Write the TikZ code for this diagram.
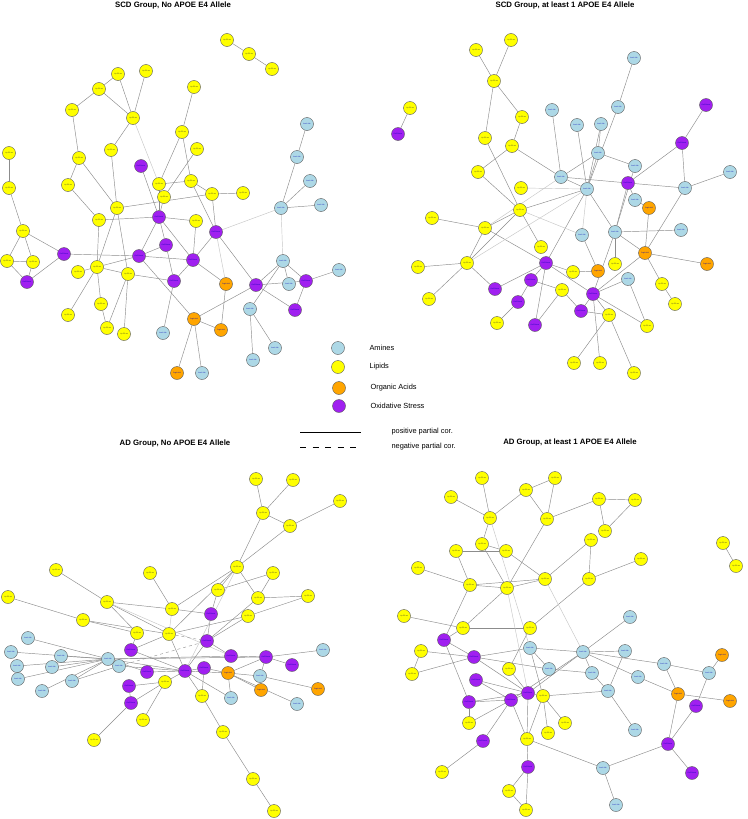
\documentclass[tikz,border=0pt]{standalone}
\usepackage{fontspec}
\setmainfont{Liberation Sans}
\usetikzlibrary{backgrounds}

\definecolor{amicol}{RGB}{173,216,230}
\definecolor{lipcol}{RGB}{255,255,0}
\definecolor{orgcol}{RGB}{255,165,0}
\definecolor{oxscol}{RGB}{160,32,240}

\newcommand\lblip{Lip.PC.aa}
\newcommand\lbami{Ami.L.AA}
\newcommand\lborga{OrgA.Acid}
\newcommand\lboxs{OxS.Stress}

\tikzset{
  met/.style={circle, draw=black!65, line width=0.4pt, minimum size=13pt, inner sep=0pt,
    font=\fontsize{1.7}{2}\selectfont, text=blue!70!black},
  lip/.style={met, fill=lipcol, text=black!80},
  ami/.style={met, fill=amicol},
  orga/.style={met, fill=orgcol},
  oxs/.style={met, fill=oxscol},
  pcor/.style={draw=black!45, line width=0.45pt},
  pcorl/.style={draw=black!22, line width=0.45pt},
  ncor/.style={draw=black!40, line width=0.45pt, dashed},
  ttl/.style={font=\fontsize{7.8}{9}\selectfont\bfseries},
  lgd/.style={font=\fontsize{7.4}{9}\selectfont, anchor=west}
}

\begin{document}
\begin{tikzpicture}[x=1pt, y=-1pt]
    \useasboundingbox (0,0) rectangle (747,819);

    % titres
    \node[ttl] (t1) at (173,5) {SCD Group, No APOE E4 Allele};
    \node[ttl] (t2) at (565,5) {SCD Group, at least 1 APOE E4 Allele};
    \node[ttl] (t3) at (175,443) {AD Group, No APOE E4 Allele};
    \node[ttl] (t4) at (570,442) {AD Group, at least 1 APOE E4 Allele};

    % SCD, pas de E4
    \foreach \n/\x/\y/\t in {a1/227/40/lip, a2/249/54/lip, a3/272/69/lip, a4/118/74/lip, a5/146/71/lip,
        a6/99/89/lip, a7/194/87/lip, a8/72/110/lip, a9/133/118/lip, a10/307/124/ami, a11/182/132/lip,
        a12/297/157/ami, a13/111/150/lip, a14/197/149/lip, a15/9/153/lip, a16/79/158/lip, a17/141/166/oxs,
        a18/310/181/ami, a19/68/185/lip, a20/9/188/lip, a21/159/184/lip, a22/191/181/lip, a23/212/194/lip,
        a24/243/193/lip, a25/164/197/lip, a26/321/205/ami, a27/117/208/lip, a28/281/208/ami, a29/99/220/lip,
        a30/159/217/oxs, a31/196/221/lip, a32/216/232/oxs, a33/23/231/lip, a34/166/245/oxs, a35/64/254/oxs,
        a36/7/261/lip, a37/33/262/lip, a38/139/256/oxs, a39/193/260/oxs, a40/283/261/ami, a41/78/272/lip,
        a42/97/267/lip, a43/128/274/lip, a44/339/270/ami, a45/27/282/oxs, a46/174/281/oxs, a47/226/284/orga,
        a48/256/285/oxs, a49/289/284/ami, a50/306/281/oxs, a51/101/304/lip, a52/250/309/ami, a53/295/310/oxs,
        a54/68/315/lip, a55/194/319/orga, a56/107/328/lip, a57/124/334/lip, a58/163/333/ami, a59/221/330/orga,
        a60/275/348/ami, a61/253/360/ami, a62/177/373/orga, a63/202/373/ami}
        \node[\t] (\n) at (\x,\y) {\csname lb\t\endcsname};

    % SCD, au moins 1 E4
    \foreach \n/\x/\y/\t in {b1/511/40/lip, b2/476/50/lip, b3/634/58/ami, b4/494/81/lip, b5/410/108/lip,
        b6/552/110/ami, b7/618/107/ami, b8/706/105/oxs, b9/522/117/lip, b10/577/125/ami, b11/601/124/ami,
        b12/398/134/oxs, b13/485/138/lip, b14/512/146/lip, b15/682/143/oxs, b16/598/153/ami, b17/635/166/ami,
        b18/478/172/lip, b19/561/177/ami, b20/628/183/oxs, b21/685/188/ami, b22/730/172/ami, b23/521/188/lip,
        b24/587/189/ami, b25/635/200/ami, b26/649/208/orga, b27/520/210/lip, b28/432/218/lip, b29/485/228/lip,
        b30/582/235/ami, b31/615/232/ami, b32/681/230/ami, b33/541/247/lip, b34/645/253/orga, b35/467/263/lip,
        b36/418/267/lip, b37/546/263/oxs, b38/615/264/lip, b39/707/264/orga, b40/573/272/lip, b41/598/271/orga,
        b42/628/279/ami, b43/531/280/oxs, b44/495/289/oxs, b45/562/290/lip, b46/593/294/oxs, b47/662/284/lip,
        b48/429/299/lip, b49/518/302/oxs, b50/675/304/lip, b51/581/311/oxs, b52/609/315/lip, b53/497/323/lip,
        b54/535/325/oxs, b55/647/326/lip, b56/574/363/lip, b57/600/363/lip, b58/634/373/lip}
        \node[\t] (\n) at (\x,\y) {\csname lb\t\endcsname};

    % AD, pas de E4
    \foreach \n/\x/\y/\t in {c1/256/479/lip, c2/293/480/lip, c3/340/501/lip, c4/263/513/lip, c5/290/526/lip,
        c6/56/570/lip, c7/150/573/lip, c8/237/567/lip, c9/273/573/lip, c10/218/590/lip, c11/8/597/lip,
        c12/107/602/lip, c13/258/598/lip, c14/308/596/lip, c15/172/609/lip, c16/211/614/oxs, c17/248/616/lip,
        c18/83/620/lip, c19/28/638/ami, c20/137/633/lip, c21/169/634/lip, c22/207/641/oxs, c23/11/652/ami,
        c24/131/650/oxs, c25/61/656/ami, c26/108/659/ami, c27/231/656/oxs, c28/266/657/oxs, c29/323/650/ami,
        c30/17/666/ami, c31/52/667/ami, c32/119/666/ami, c33/147/672/oxs, c34/185/671/oxs, c35/204/668/oxs,
        c36/228/673/orga, c37/292/665/oxs, c38/260/676/ami, c39/18/679/ami, c40/72/681/ami, c41/165/682/lip,
        c42/129/686/oxs, c43/261/690/orga, c44/318/689/orga, c45/42/691/ami, c46/202/696/lip, c47/231/698/ami,
        c48/297/704/ami, c49/131/703/oxs, c50/143/720/lip, c51/94/740/lip, c52/223/732/lip, c53/253/779/lip,
        c54/274/811/lip}
        \node[\t] (\n) at (\x,\y) {\csname lb\t\endcsname};

    % AD, au moins 1 E4
    \foreach \n/\x/\y/\t in {d1/482/478/lip, d2/555/478/lip, d3/526/490/lip, d4/451/497/lip, d5/599/499/lip,
        d6/635/500/lip, d7/490/518/lip, d8/547/519/lip, d9/605/531/lip, d10/591/540/lip, d11/723/543/lip,
        d12/482/544/lip, d13/456/551/lip, d14/506/551/lip, d15/641/559/lip, d16/736/566/lip, d17/418/568/lip,
        d18/589/579/lip, d19/545/579/lip, d20/470/585/lip, d21/507/588/lip, d22/404/616/lip, d23/630/617/ami,
        d24/463/628/lip, d25/530/628/lip, d26/444/640/oxs, d27/421/651/lip, d28/530/648/ami, d29/474/657/oxs,
        d30/583/652/ami, d31/625/651/ami, d32/722/655/orga, d33/664/664/ami, d34/412/674/lip, d35/549/669/ami,
        d36/509/669/lip, d37/592/673/ami, d38/638/677/ami, d39/709/673/ami, d40/476/680/oxs, d41/528/693/oxs,
        d42/543/696/lip, d43/608/691/ami, d44/678/694/orga, d45/511/700/oxs, d46/469/702/oxs, d47/730/701/orga,
        d48/696/706/oxs, d49/565/723/lip, d50/469/723/lip, d51/548/733/lip, d52/483/741/oxs, d53/527/739/lip,
        d54/635/730/ami, d55/668/744/oxs, d56/442/772/lip, d57/528/767/oxs, d58/603/768/ami, d59/692/773/oxs,
        d60/509/791/lip, d61/616/805/ami, d62/526/810/lip}
        \node[\t] (\n) at (\x,\y) {\csname lb\t\endcsname};

    \begin{scope}[on background layer]
    \fill[white] (0,0) rectangle (747,819);
    % corrélations partielles
    \foreach \u/\v in {a1/a2, a2/a3, a4/a6, a4/a9, a5/a9, a6/a8, a6/a9, a8/a16, a9/a13, a7/a11, a11/a21,
        a11/a22, a14/a25, a16/a19, a16/a27, a13/a27, a17/a30, a21/a22, a23/a24, a22/a23, a10/a12, a12/a28,
        a18/a28, a26/a28, a15/a20, a20/a33, a19/a29, a33/a36, a33/a37, a33/a35, a36/a37, a36/a45, a37/a45,
        a35/a45, a35/a38, a29/a42, a29/a30, a27/a42, a27/a43, a27/a23, a41/a42, a42/a38, a42/a51, a42/a54,
        a42/a43, a43/a46, a43/a56, a43/a57, a51/a56, a25/a30, a21/a30, a30/a31, a30/a38, a30/a34, a30/a39,
        a32/a23, a32/a22, a32/a39, a32/a48, a38/a34, a38/a39, a38/a55, a34/a46, a39/a46, a39/a47, a46/a58,
        a55/a48, a55/a59, a55/a62, a55/a63, a47/a59, a48/a50, a48/a53, a48/a40, a40/a52, a40/a49, a40/a50,
        a50/a44, a50/a53, a52/a60, a52/a61, a31/a39}
        \draw[pcor] (\u) -- (\v);
    \foreach \u/\v in {a9/a21, a28/a32, a28/a40, a32/a47}
        \draw[pcorl] (\u) -- (\v);

    \foreach \u/\v in {b1/b4, b2/b4, b4/b13, b4/b9, b9/b14, b13/b27, b14/b18, b14/b19, b5/b12, b6/b19,
        b10/b24, b11/b24, b11/b16, b3/b7, b7/b24, b8/b15, b15/b20, b15/b21, b16/b19, b16/b17, b16/b24,
        b19/b20, b19/b24, b20/b21, b20/b25, b21/b22, b18/b27, b28/b29, b29/b27, b29/b35, b29/b37, b27/b24,
        b27/b33, b35/b36, b35/b48, b35/b44, b35/b27, b37/b24, b37/b43, b37/b44, b37/b40, b37/b46, b37/b54,
        b43/b49, b43/b45, b49/b53, b45/b54, b45/b51, b46/b51, b46/b34, b46/b42, b46/b52, b46/b55, b52/b51,
        b52/b56, b52/b58, b46/b57, b34/b26, b34/b39, b34/b31, b34/b47, b34/b21, b47/b50, b31/b32, b31/b20,
        b31/b38, b31/b46, b30/b41, b41/b40, b42/b55, b24/b31, b26/b25, b17/b31}
        \draw[pcor] (\u) -- (\v);
    \foreach \u/\v in {b23/b24, b27/b30, b30/b24, b29/b19, b35/b24}
        \draw[pcorl] (\u) -- (\v);

    \foreach \u/\v in {c1/c4, c2/c4, c4/c5, c3/c5, c4/c8, c5/c8, c8/c10, c8/c13, c8/c15, c8/c21, c9/c13,
        c9/c10, c13/c14, c13/c22, c14/c17, c17/c21, c17/c22, c10/c16, c7/c15, c6/c12, c11/c18, c12/c20,
        c12/c15, c12/c21, c15/c16, c18/c20, c18/c21, c16/c22, c22/c34, c26/c19, c26/c23, c26/c25,
        c26/c30, c26/c31, c26/c39, c26/c40, c26/c45, c26/c32, c26/c34, c26/c27, c26/c28, c32/c34, c32/c40,
        c24/c20, c24/c21, c24/c34, c34/c35, c34/c36, c34/c41, c34/c47, c34/c46, c34/c21, c34/c33, c35/c36,
        c35/c46, c36/c28, c36/c43, c36/c47, c36/c38, c36/c48, c28/c29, c28/c37, c28/c38, c28/c27, c27/c22,
        c38/c44, c41/c42, c41/c49, c41/c50, c42/c49, c49/c51, c46/c52, c52/c53, c53/c54, c33/c26}
        \draw[pcor] (\u) -- (\v);
    \foreach \u/\v in {c15/c21, c12/c27, c8/c34}
        \draw[pcorl] (\u) -- (\v);
    \foreach \u/\v in {c21/c22, c32/c22}
        \draw[ncor] (\u) -- (\v);

    \foreach \u/\v in {d1/d7, d4/d7, d3/d7, d3/d2, d2/d8, d3/d8, d5/d6, d5/d9, d6/d9, d5/d8, d7/d12,
        d12/d21, d12/d14, d13/d20, d13/d14, d14/d19, d17/d20, d20/d21, d20/d19, d20/d26, d21/d19, d21/d8,
        d21/d24, d10/d19, d10/d18, d15/d18, d18/d25, d22/d24, d24/d25, d24/d26, d23/d30, d11/d16,
        d25/d36, d26/d46, d26/d29, d27/d34, d27/d29, d29/d28, d29/d34, d29/d35, d29/d41, d28/d35, d28/d42,
        d30/d31, d30/d37, d30/d38, d30/d41, d30/d45, d30/d33, d30/d28, d33/d39, d33/d44, d35/d37, d37/d43,
        d31/d43, d38/d44, d32/d39, d39/d48, d44/d47, d44/d55, d48/d55, d55/d59, d55/d58, d43/d54, d43/d42,
        d58/d61, d58/d53, d40/d41, d40/d45, d36/d41, d41/d42, d41/d45, d41/d53, d42/d49, d42/d51, d42/d53,
        d45/d46, d45/d50, d45/d52, d45/d53, d46/d50, d52/d56, d53/d57, d57/d60, d57/d62, d60/d62, d46/d41}
        \draw[pcor] (\u) -- (\v);
    \foreach \u/\v in {d7/d28, d21/d41, d19/d30}
        \draw[pcorl] (\u) -- (\v);
    \end{scope}

    % légende
    \node[ami] (la) at (338,348) {};
    \node[lip] (ll) at (338,367) {};
    \node[orga] (lo) at (339,388) {};
    \node[oxs] (lx) at (339,406) {};
    \node[lgd] (lta) at (366,348) {Amines};
    \node[lgd] (ltl) at (366,367) {Lipids};
    \node[lgd] (lto) at (367,388) {Organic Acids};
    \node[lgd] (ltx) at (367,406) {Oxidative Stress};
    \coordinate (ps) at (300,432);
    \coordinate (pe) at (361,432);
    \coordinate (ns) at (300,447);
    \coordinate (ne) at (357,447);
    \draw[black, line width=1pt] (ps) -- (pe);
    \draw[black, line width=1pt, dash pattern=on 6pt off 6.5pt] (ns) -- (ne);
    \node[lgd] (ltp) at (388,432) {positive partial cor.};
    \node[lgd] (ltn) at (388,447) {negative partial cor.};
\end{tikzpicture}
\end{document}
